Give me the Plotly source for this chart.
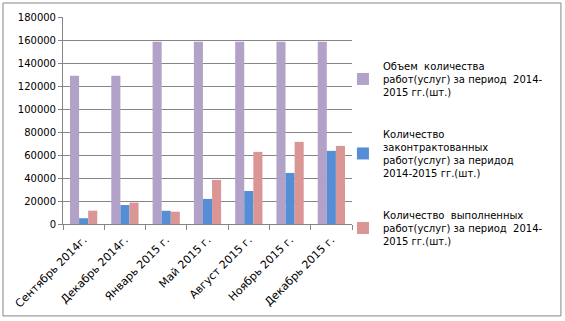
import plotly.graph_objects as go

categories = ["Сентябрь 2014г.", "Декабрь 2014г.", "Январь 2015 г.", "Май 2015 г.",
              "Август 2015 г.", "Ноябрь 2015 г.", "Декабрь 2015 г."]
volume = [129000, 129000, 158500, 158500, 158500, 158500, 158500]
contracted = [5000, 16500, 11500, 21800, 28700, 44400, 63600]
completed = [11600, 18600, 10700, 38300, 62700, 71400, 67900]

names = [
    "Объем  количества<br>работ(услуг) за период  2014-<br>2015 гг.(шт.)",
    "Количество<br>законтрактованных<br>работ(услуг) за перидод<br>2014-2015 гг.(шт.)",
    "Количество  выполненных<br>работ(услуг) за период  2014-<br>2015 гг.(шт.)",
]
colors = ["#B3A2C7", "#558ED5", "#D99694"]
series = [volume, contracted, completed]

fig = go.Figure()
for i, (vals, name, col) in enumerate(zip(series, names, colors)):
    fig.add_trace(go.Bar(x=categories, y=vals, name=name, marker_color=col,
                         legendgroup=f"g{i}", marker_line_width=0))

font = dict(family="DejaVu Sans", size=10, color="black")
fig.update_layout(
    width=565, height=321,
    margin=dict(l=63, r=213, t=17, b=97, autoexpand=False),
    paper_bgcolor="white", plot_bgcolor="white",
    font=font,
    barmode="group", bargap=0.34, bargroupgap=0,
    showlegend=True,
    legend=dict(xref="container", yref="container", x=0.607, xanchor="left",
                y=0.835, yanchor="top", maxheight=400,
                traceorder="grouped", tracegroupgap=26,
                font=dict(family="DejaVu Sans", size=10, color="black"),
                bgcolor="rgba(0,0,0,0)"),
    xaxis=dict(tickangle=-45, showline=True, linecolor="#868686", linewidth=1,
               ticks="outside", ticklen=5, tickcolor="#868686", tickson="boundaries",
               showgrid=False, tickfont=dict(family="DejaVu Sans", size=11, color="black"),
               ticklabelstandoff=4, automargin=False),
    yaxis=dict(range=[0, 180000], dtick=20000, showline=True, linecolor="#868686",
               linewidth=1, ticks="outside", ticklen=4, tickcolor="#868686",
               showgrid=True, gridcolor="#868686", gridwidth=1, zeroline=False,
               tickformat="d", tickfont=font, automargin=False),
)
fig.add_shape(type="rect", xref="paper", yref="paper",
              x0=-0.2076, x1=1.723, y0=-0.444, y1=1.0676,
              line=dict(color="#868686", width=1), fillcolor="rgba(0,0,0,0)")
fig.write_html("out.html", config={"displayModeBar": False},
               post_script="document.body.style.margin='0';")
